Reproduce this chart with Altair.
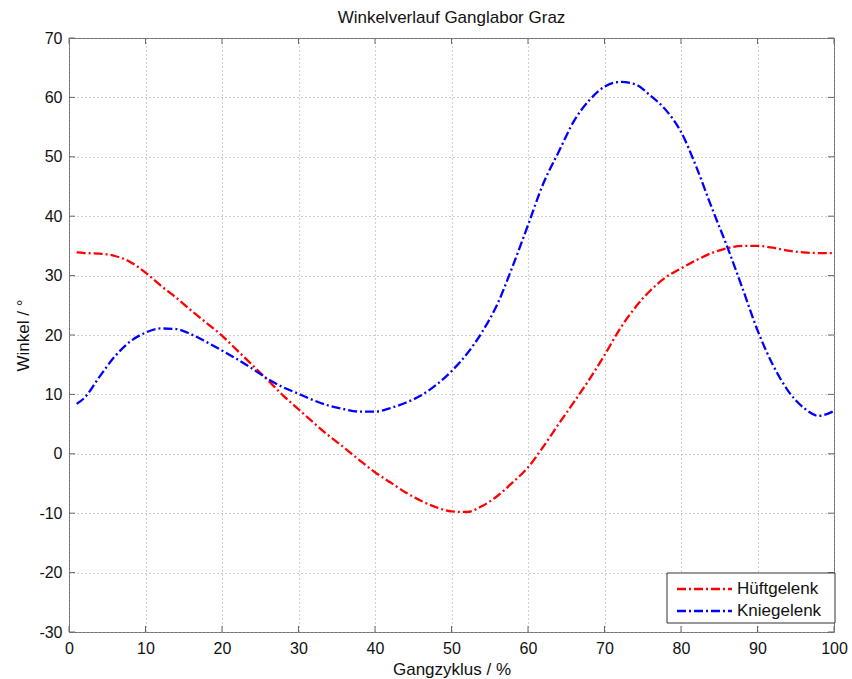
import altair as alt
import pandas as pd

pct = [1, 2, 4, 6, 8, 10, 12, 14, 16, 18, 20, 22, 24, 26, 28, 30, 32, 34, 36, 38, 40,
       42, 44, 46, 48, 50, 52, 54, 56, 58, 60, 62, 64, 66, 68, 70, 72, 74, 76, 78, 80,
       82, 84, 86, 88, 90, 92, 94, 96, 98, 100]

hueft = [33.9, 33.8, 33.7, 33.3, 32.3, 30.5, 28.3, 26.3, 24.1, 22.0, 19.9, 17.4, 14.9,
         12.4, 9.8, 7.5, 5.2, 3.0, 1.0, -1.1, -3.1, -4.8, -6.5, -7.9, -9.0, -9.7, -9.8,
         -8.8, -7.1, -4.8, -2.3, 1.2, 5.0, 8.7, 12.5, 16.6, 21.0, 24.6, 27.5, 29.7, 31.2,
         32.6, 33.8, 34.6, 35.0, 35.0, 34.7, 34.2, 33.9, 33.8, 33.8]

knie = [8.4, 9.4, 13.0, 16.4, 18.9, 20.4, 21.1, 21.0, 20.1, 18.8, 17.4, 15.9, 14.3,
        12.6, 11.2, 10.1, 9.0, 8.1, 7.5, 7.1, 7.1, 7.7, 8.6, 9.8, 11.6, 13.9, 16.8,
        20.5, 25.2, 31.6, 38.5, 45.5, 50.8, 56.0, 59.5, 61.8, 62.6, 62.2, 60.3, 57.9,
        54.2, 48.3, 41.5, 35.0, 28.0, 20.8, 15.0, 10.6, 7.8, 6.4, 7.2]

series_names = ["Hüftgelenk", "Kniegelenk"]
series_colors = ["#ff0000", "#0000ff"]

x_ticks = [0, 10, 20, 30, 40, 50, 60, 70, 80, 90, 100]
y_ticks = [-30, -20, -10, 0, 10, 20, 30, 40, 50, 60, 70]

W, H = 765, 594
FONT = "Liberation Sans"
DASH = [9, 3, 2, 3]
LW = 2.3

df = pd.concat([
    pd.DataFrame({"pct": pct, "winkel": hueft, "gelenk": series_names[0]}),
    pd.DataFrame({"pct": pct, "winkel": knie, "gelenk": series_names[1]}),
])
xt = pd.DataFrame({"pct": x_ticks})
yt = pd.DataFrame({"winkel": y_ticks})

xscale = alt.Scale(domain=[0, 100], nice=False, zero=False)
yscale = alt.Scale(domain=[-30, 70], nice=False, zero=False)
cscale = alt.Scale(domain=series_names, range=series_colors)

LBL = "'' + datum.value"
xaxis = alt.Axis(values=x_ticks, title="Gangzyklus / %", tickSize=0, labelPadding=8,
                 titlePadding=5, labelFlush=False, labelExpr=LBL)
yaxis = alt.Axis(values=y_ticks, title="Winkel / °", tickSize=0, labelPadding=7,
                 titlePadding=6, labelFlush=False, labelExpr=LBL)

X = alt.X("pct:Q", scale=xscale, axis=xaxis)
Y = alt.Y("winkel:Q", scale=yscale, axis=yaxis)

lines = alt.Chart(df).mark_line(strokeWidth=LW, strokeDash=DASH, interpolate="monotone").encode(
    x=X, y=Y,
    color=alt.Color("gelenk:N", scale=cscale, legend=None),
    order=alt.Order("pct:Q"),
)

tick_color = "#666666"
xb = alt.Chart(xt).mark_rule(color=tick_color).encode(x=X, y=alt.value(H), y2=alt.value(H - 6))
xtop = alt.Chart(xt).mark_rule(color=tick_color).encode(x=X, y=alt.value(0), y2=alt.value(6))
yl = alt.Chart(yt).mark_rule(color=tick_color).encode(y=Y, x=alt.value(0), x2=alt.value(6))
yr = alt.Chart(yt).mark_rule(color=tick_color).encode(y=Y, x=alt.value(W), x2=alt.value(W - 6))

# legend box (inside plot, bottom right)
LX0, LX1, LY0, LY1 = 598, 766, 535, 585
ROW_Y = [551, 573]
leg_box = alt.Chart(pd.DataFrame({"k": [0]})).mark_rect(
    fill="white", stroke="#333333", strokeWidth=1
).encode(x=alt.value(LX0), x2=alt.value(LX1), y=alt.value(LY0), y2=alt.value(LY1))

legend_layers = []
for name, ry in zip(series_names, ROW_Y):
    row = pd.DataFrame({"gelenk": [name]})
    legend_layers.append(
        alt.Chart(row).mark_rule(strokeWidth=LW, strokeDash=DASH).encode(
            x=alt.value(608), x2=alt.value(663), y=alt.value(ry),
            color=alt.Color("gelenk:N", scale=cscale, legend=None),
        )
    )
    legend_layers.append(
        alt.Chart(row).mark_text(
            align="left", baseline="middle", font=FONT, fontSize=17, color="#111111"
        ).encode(x=alt.value(668), y=alt.value(ry), text="gelenk:N")
    )

chart = alt.layer(lines, xb, xtop, yl, yr, leg_box, *legend_layers).properties(
    width=W, height=H,
    title=alt.TitleParams("Winkelverlauf Ganglabor Graz", fontSize=17, font=FONT,
                          fontWeight="normal", color="#111111", offset=3),
    autosize=alt.AutoSizeParams(type="none"),
    padding={"left": 69, "top": 38, "right": 18, "bottom": 47},
).configure_view(
    stroke="#707070", strokeWidth=1,
).configure_axis(
    domain=False, grid=True, gridColor="#a0a0a0", gridDash=[1, 3], gridWidth=1,
    labelFont=FONT, labelFontSize=16, labelColor="#111111",
    titleFont=FONT, titleFontSize=17, titleFontWeight="normal", titleColor="#111111",
)

chart.save("out.html", embed_options={"renderer": "svg", "actions": False})
